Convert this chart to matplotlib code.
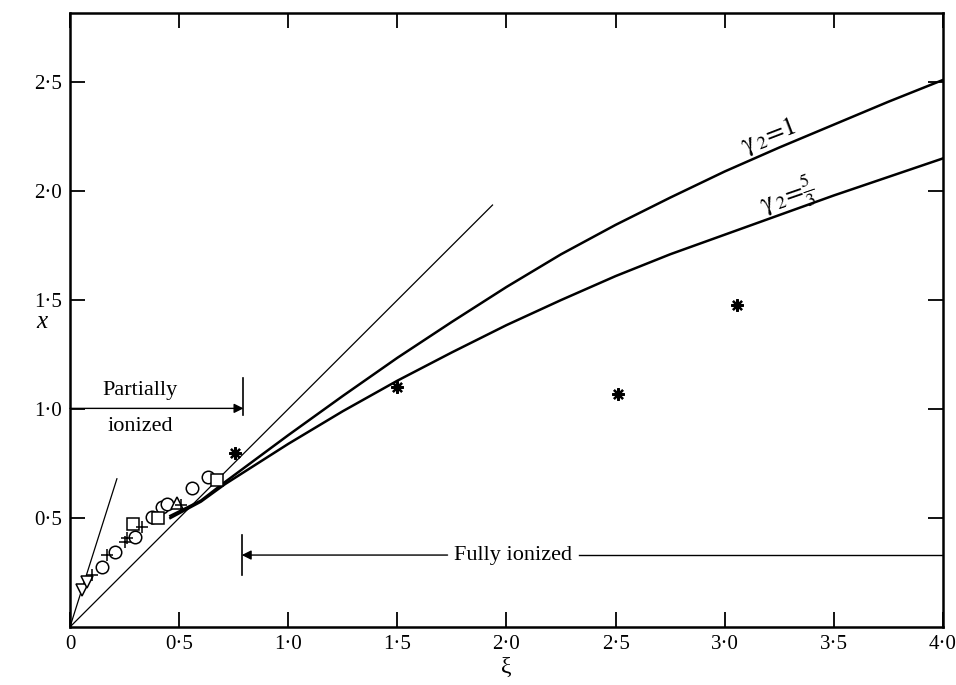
import matplotlib
matplotlib.use("Agg")
import matplotlib.pyplot as plt

plt.rcParams['font.family'] = ['Liberation Serif', 'DejaVu Serif']
plt.rcParams['mathtext.fontset'] = 'stix'

# theory curves
xi_g1 = [0.46, 0.60, 0.71, 1.00, 1.25, 1.50, 1.75, 2.00, 2.25, 2.50, 2.75,
         3.00, 3.25, 3.50, 3.75, 4.00]
x_g1 = [0.51, 0.58, 0.665, 0.88, 1.06, 1.235, 1.40, 1.56, 1.71, 1.845, 1.97,
        2.09, 2.20, 2.305, 2.41, 2.51]
xi_g53 = [0.46, 0.60, 0.71, 1.00, 1.25, 1.50, 1.75, 2.00, 2.25, 2.50, 2.75,
          3.00, 3.25, 3.50, 3.75, 4.00]
x_g53 = [0.50, 0.575, 0.655, 0.84, 0.99, 1.13, 1.26, 1.385, 1.50, 1.61, 1.71,
         1.80, 1.89, 1.98, 2.065, 2.15]

# straight reference lines from the origin
xi_unit = [0.0, 1.936]
x_unit = [0.0, 1.936]
xi_steep = [0.0, 0.215]
x_steep = [0.0, 0.68]

# measured points
xi_circ = [0.145, 0.206, 0.298, 0.375, 0.42, 0.443, 0.558, 0.633]
x_circ = [0.277, 0.345, 0.414, 0.506, 0.55, 0.565, 0.637, 0.69]
xi_sq = [0.29, 0.405, 0.673]
x_sq = [0.472, 0.50, 0.674]
xi_tri_dn = [0.054, 0.076]
x_tri_dn = [0.17, 0.205]
xi_tri_up = [0.49]
x_tri_up = [0.568]
xi_plus = [0.10, 0.168, 0.252, 0.26, 0.33, 0.51]
x_plus = [0.24, 0.33, 0.39, 0.41, 0.46, 0.56]
xi_star = [0.757, 1.50, 2.51, 3.055]
x_star = [0.798, 1.10, 1.07, 1.477]

xticks = [0, 0.5, 1.0, 1.5, 2.0, 2.5, 3.0, 3.5, 4.0]
xtick_labels = ['0', '0·5', '1·0', '1·5', '2·0', '2·5', '3·0', '3·5', '4·0']
yticks = [0.5, 1.0, 1.5, 2.0, 2.5]
ytick_labels = ['0·5', '1·0', '1·5', '2·0', '2·5']

fig = plt.figure(figsize=(9.56, 6.85), dpi=100)
ax = fig.add_axes([0.0732, 0.0847, 0.9132, 0.8963])

ax.plot(xi_g1, x_g1, color='black', lw=1.8)
ax.plot(xi_g53, x_g53, color='black', lw=1.8)
ax.plot(xi_unit, x_unit, color='black', lw=0.9)
ax.plot(xi_steep, x_steep, color='black', lw=0.9)

ms = dict(color='black', ls='none', mfc='white', mec='black', mew=1.1)
ax.plot(xi_circ, x_circ, marker='o', ms=9, **ms)
ax.plot(xi_sq, x_sq, marker='s', ms=8, **ms)
ax.plot(xi_tri_dn, x_tri_dn, marker='v', ms=8, **ms)
ax.plot(xi_tri_up, x_tri_up, marker='^', ms=9, **ms)
ax.plot(xi_plus, x_plus, marker='+', ms=9, color='black', ls='none', mew=1.1)
ax.plot(xi_star, x_star, marker=(8, 2, 0), ms=9, color='black', ls='none', mew=1.6)

# curve labels
ax.text(3.20, 2.25, r'$\mathrm{\gamma}_{\,2}\!=\!1$', fontsize=19, rotation=21,
        ha='center', va='center')
ax.text(3.29, 1.97, r'$\mathrm{\gamma}_{\,2}\!=\!\frac{5}{3}$', fontsize=19,
        rotation=19, ha='center', va='center')

# partially ionized region
ax.annotate('', xy=(0.795, 1.003), xytext=(0.0, 1.003),
            arrowprops=dict(arrowstyle='-|>', color='black', lw=1.0,
                            mutation_scale=14, shrinkA=0, shrinkB=0))
ax.plot([0.795, 0.795], [0.972, 1.142], color='black', lw=1.2)
ax.text(0.32, 1.087, 'Partially', fontsize=16, ha='center', va='center')
ax.text(0.32, 0.92, 'ionized', fontsize=16, ha='center', va='center')

# fully ionized region
ax.annotate('', xy=(0.787, 0.33), xytext=(1.73, 0.33),
            arrowprops=dict(arrowstyle='-|>', color='black', lw=1.0,
                            mutation_scale=14, shrinkA=0, shrinkB=0))
ax.plot([2.33, 4.0], [0.33, 0.33], color='black', lw=1.0)
ax.plot([0.787, 0.787], [0.24, 0.42], color='black', lw=1.2)
ax.text(2.03, 0.33, 'Fully ionized', fontsize=16, ha='center', va='center')

ax.set_xlim(0, 4.0)
ax.set_ylim(0, 2.817)
ax.set_xticks(xticks)
ax.set_xticklabels(xtick_labels)
ax.set_yticks(yticks)
ax.set_yticklabels(ytick_labels)
ax.tick_params(direction='in', length=11, width=1.3, labelsize=15,
               top=True, right=True, pad=6)
for s in ax.spines.values():
    s.set_linewidth(1.8)

ax.set_xlabel('ξ', fontsize=17, labelpad=2)
fig.text(42 / 956, 1 - 322 / 685, 'x', fontsize=18, style='italic',
         ha='center', va='center')

fig.savefig('out.png', dpi=100)
